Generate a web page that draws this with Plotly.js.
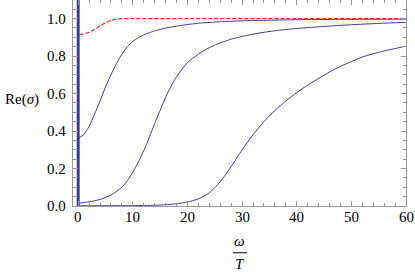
<!DOCTYPE html>
<html><head><meta charset="utf-8">
<script src="https://cdn.plot.ly/plotly-3.0.1.min.js"></script>
<style>
html,body{margin:0;padding:0;background:#fff}
#plot{width:415px;height:272px}
</style>
</head><body><div id="plot"></div>
<script>
// Curve 1 (starts ~0.36)
const w1 = [0, 1, 2, 3, 4, 5, 6, 7, 8, 9, 10, 11, 12, 13, 14, 16, 19, 22, 26, 30, 35, 40, 50, 60];
const s1 = [0.36, 0.38, 0.425, 0.49, 0.56, 0.635, 0.70, 0.76, 0.81, 0.85, 0.878, 0.898, 0.913, 0.924, 0.934, 0.949, 0.964, 0.975, 0.983, 0.988, 0.991, 0.994, 0.996, 0.997];
// Curve 2
const w2 = [0, 2, 4, 6, 8, 9, 10, 11, 12, 13, 14, 15, 16, 17, 18, 19, 20, 22, 24, 26, 28, 30, 33, 36, 40, 45, 50, 55, 60];
const s2 = [0.015, 0.022, 0.035, 0.058, 0.10, 0.135, 0.18, 0.235, 0.295, 0.365, 0.44, 0.51, 0.58, 0.64, 0.69, 0.73, 0.765, 0.81, 0.845, 0.87, 0.89, 0.905, 0.922, 0.935, 0.947, 0.958, 0.967, 0.974, 0.98];
// Curve 3
const w3 = [0, 10, 14, 16, 18, 20, 22, 24, 26, 28, 30, 32, 34, 36, 38, 40, 42, 44, 46, 48, 50, 52, 54, 56, 58, 60];
const s3 = [0.001, 0.002, 0.004, 0.007, 0.012, 0.021, 0.038, 0.07, 0.13, 0.21, 0.30, 0.38, 0.45, 0.51, 0.56, 0.605, 0.645, 0.68, 0.715, 0.745, 0.77, 0.795, 0.812, 0.827, 0.84, 0.853];
// Red dashed
const wr = [0.3, 1, 2, 3, 4, 5, 6, 7, 8, 10, 20, 40, 60];
const sr = [0.915, 0.918, 0.927, 0.942, 0.96, 0.977, 0.99, 0.997, 1.0, 1.0, 1.0, 1.0, 1.0];
// Delta spike at omega = 0
const spikeX = [0, 0];
const spikeY = [0, 1.1];
// Tick labels
const xTicks = [0, 10, 20, 30, 40, 50, 60];
const xTickText = ['0', '10', '20', '30', '40', '50', '60'];
const yTicks = [0, 0.2, 0.4, 0.6, 0.8, 1.0];
const yTickText = ['0.0', '0.2', '0.4', '0.6', '0.8', '1.0'];

const blue = '#3f3f9e';
const serif = 'Liberation Serif';
const lblFont = {family: serif, size: 15, color: '#000'};
const traces = [
  {x: w1, y: s1, mode: 'lines', line: {color: blue, width: 1, shape: 'spline', smoothing: 0.6}},
  {x: w2, y: s2, mode: 'lines', line: {color: blue, width: 1, shape: 'spline', smoothing: 0.6}},
  {x: w3, y: s3, mode: 'lines', line: {color: blue, width: 1, shape: 'spline', smoothing: 0.6}},
  {x: wr, y: sr, mode: 'lines', line: {color: '#ff2020', width: 1.2, dash: '4px,2px', shape: 'spline', smoothing: 0.6}},
  {x: spikeX, y: spikeY, mode: 'lines', line: {color: '#3a3a9c', width: 3}}
];
const axisCommon = {
  showline: true, linecolor: '#999', linewidth: 1, mirror: 'allticks',
  ticks: 'inside', ticklen: 5, tickcolor: '#999', tickwidth: 1,
  showgrid: false, zeroline: false, showticklabels: false
};
const annotations = [
  {text: 'Re(<i>σ</i>)', xref: 'paper', yref: 'paper', x: -0.21, y: 0.515, xanchor: 'left', yanchor: 'middle', showarrow: false, font: lblFont},
  {text: '<i>ω</i>', xref: 'paper', yref: 'paper', x: 0.5015, y: -0.172, xanchor: 'center', yanchor: 'middle', showarrow: false, font: lblFont},
  {text: '<i>T</i>', xref: 'paper', yref: 'paper', x: 0.5015, y: -0.283, xanchor: 'center', yanchor: 'middle', showarrow: false, font: lblFont}
];
xTicks.forEach((v, i) => annotations.push({text: xTickText[i], xref: 'x', yref: 'paper', x: v, y: 0, xanchor: 'center', yanchor: 'top', yshift: -1, showarrow: false, font: lblFont}));
yTicks.forEach((v, i) => annotations.push({text: yTickText[i], xref: 'paper', yref: 'y', x: 0, y: v, xanchor: 'right', yanchor: 'middle', xshift: -5, showarrow: false, font: lblFont}));
const layout = {
  width: 415, height: 272,
  margin: {l: 73, r: 9, t: 0, b: 66},
  showlegend: false,
  font: lblFont,
  paper_bgcolor: '#fff', plot_bgcolor: '#fff',
  xaxis: Object.assign({}, axisCommon, {
    range: [-0.95, 60], tickvals: xTicks,
    minor: {dtick: 2, tick0: 0, ticks: 'inside', ticklen: 3, tickcolor: '#999'}
  }),
  yaxis: Object.assign({}, axisCommon, {
    range: [0, 1.099], tickvals: yTicks,
    minor: {dtick: 0.05, tick0: 0, ticks: 'inside', ticklen: 3, tickcolor: '#999'}
  }),
  annotations: annotations,
  shapes: [
    {type: 'line', xref: 'paper', yref: 'paper', x0: 0.48, x1: 0.5225, y0: -0.227, y1: -0.227, line: {color: '#000', width: 1}}
  ]
};
Plotly.newPlot('plot', traces, layout, {staticPlot: true, displayModeBar: false});
</script></body></html>
